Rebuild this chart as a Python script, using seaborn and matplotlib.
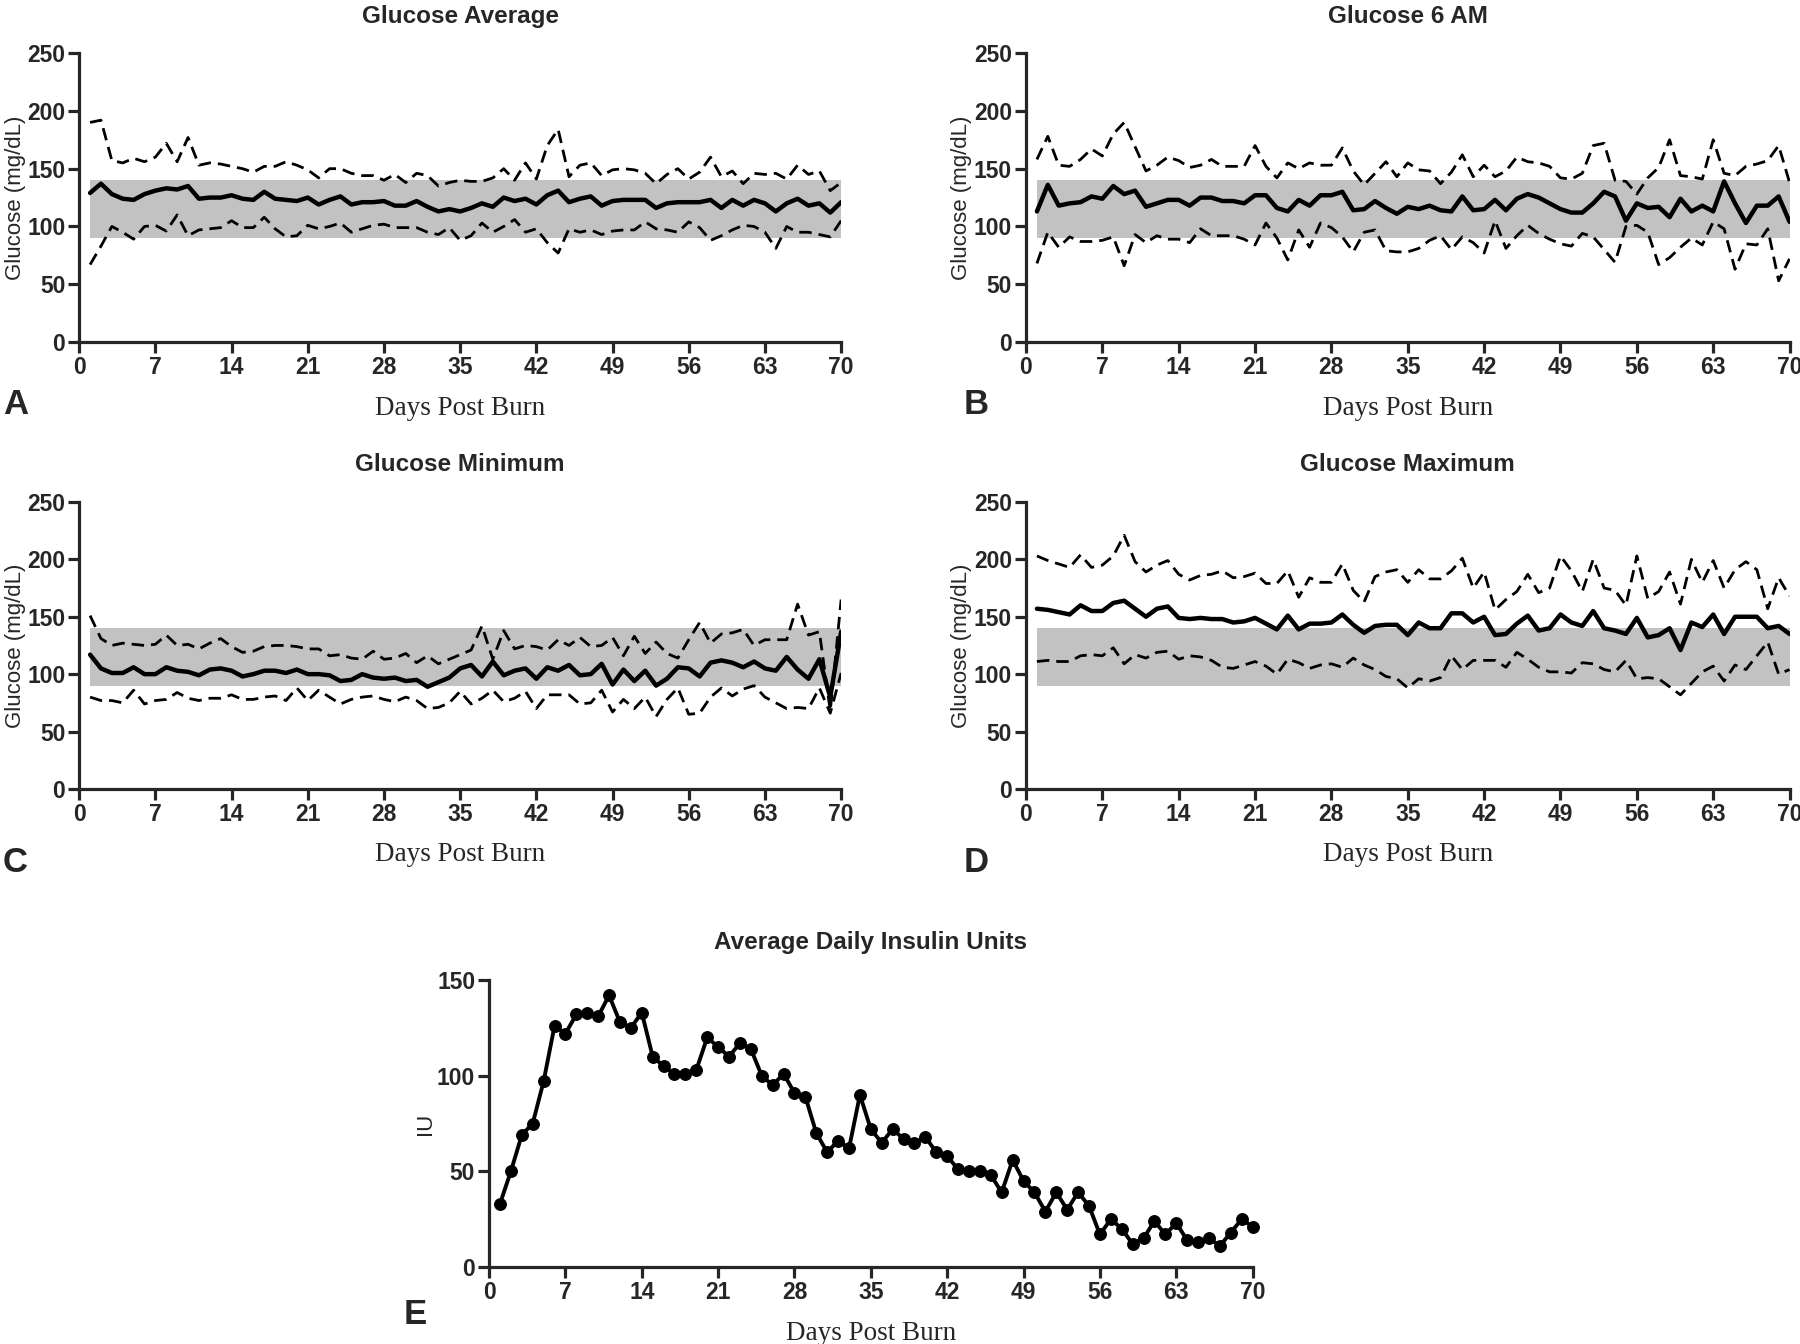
import numpy as np
import pandas as pd
import matplotlib
matplotlib.use("Agg")
import matplotlib.pyplot as plt
import seaborn as sns

days = list(range(1, 71))
target_low, target_high = 90, 140

# Panel A - glucose average
avg_mean = [129, 137, 128, 124, 123, 128, 131, 133, 132, 135, 124, 125, 125, 127, 124, 123, 130, 124, 123, 122,
            125, 119, 123, 126, 119, 121, 121, 122, 118, 118, 122, 117, 113, 115, 113, 116, 120, 117, 125, 122,
            124, 119, 127, 131, 121, 124, 126, 118, 122, 123, 123, 123, 116, 120, 121, 121, 121, 123, 116, 123,
            118, 123, 120, 113, 120, 124, 118, 120, 112, 121]
avg_upper = [190, 192, 157, 155, 159, 156, 160, 172, 156, 177, 153, 155, 154, 152, 150, 147, 152, 152, 156, 153,
             149, 142, 150, 150, 146, 144, 144, 140, 145, 138, 146, 144, 135, 138, 140, 139, 139, 142, 150, 140,
             155, 141, 170, 184, 143, 153, 155, 144, 149, 150, 149, 146, 137, 145, 150, 141, 147, 160, 143, 148,
             137, 146, 145, 146, 141, 153, 145, 148, 131, 138]
avg_lower = [67, 83, 100, 95, 89, 100, 101, 96, 110, 92, 97, 98, 99, 105, 99, 99, 108, 98, 91, 92,
             101, 98, 100, 103, 95, 98, 101, 102, 99, 99, 99, 95, 93, 99, 88, 92, 103, 95, 100, 106,
             95, 98, 86, 77, 98, 95, 97, 93, 96, 97, 97, 104, 98, 97, 95, 104, 99, 88, 92, 97,
             101, 100, 95, 81, 100, 95, 95, 93, 91, 105]

# Panel B - glucose 6 AM
am6_mean = [113, 136, 118, 120, 121, 126, 124, 135, 128, 131, 117, 120, 123, 123, 118, 125, 125, 122, 122, 120,
            127, 127, 116, 113, 123, 118, 127, 127, 130, 114, 115, 122, 116, 111, 117, 115, 118, 114, 113, 126,
            114, 115, 123, 114, 124, 128, 125, 120, 115, 112, 112, 120, 130, 126, 105, 120, 116, 117, 108, 124,
            113, 118, 113, 139, 120, 103, 118, 118, 126, 104]
am6_upper = [158, 178, 153, 152, 158, 167, 161, 180, 190, 169, 148, 153, 160, 157, 151, 153, 158, 152, 152, 152,
             170, 152, 142, 155, 150, 155, 153, 153, 168, 148, 136, 146, 156, 143, 155, 149, 148, 137, 147, 162,
             143, 153, 143, 148, 160, 156, 155, 152, 142, 141, 146, 170, 172, 140, 139, 128, 142, 151, 175, 144,
             143, 141, 175, 146, 144, 152, 154, 157, 170, 138]
am6_lower = [68, 95, 82, 91, 87, 87, 88, 91, 66, 93, 86, 92, 89, 89, 86, 98, 92, 92, 92, 89,
             84, 103, 90, 71, 97, 82, 103, 99, 91, 78, 95, 97, 79, 78, 78, 81, 88, 92, 80, 91,
             86, 77, 105, 81, 92, 101, 94, 89, 85, 83, 94, 91, 80, 69, 100, 101, 95, 67, 73, 82,
             90, 84, 104, 98, 63, 85, 84, 98, 53, 72]

# Panel C - glucose minimum
min_mean = [117, 105, 101, 101, 106, 100, 100, 106, 103, 102, 99, 104, 105, 103, 98, 100, 103, 103, 101, 104,
            100, 100, 99, 94, 95, 100, 97, 96, 97, 94, 95, 89, 93, 97, 105, 108, 98, 111, 99, 103,
            105, 96, 106, 103, 108, 99, 100, 109, 91, 104, 94, 103, 90, 96, 106, 105, 98, 110, 112, 110,
            106, 111, 105, 103, 115, 104, 96, 113, 80, 137]
min_upper = [151, 131, 125, 127, 126, 125, 126, 134, 125, 126, 122, 127, 131, 124, 119, 120, 124, 125, 125, 124,
             122, 122, 116, 117, 114, 113, 120, 113, 114, 118, 110, 116, 109, 113, 117, 121, 142, 113, 138, 122,
             125, 124, 121, 130, 125, 132, 124, 125, 132, 116, 133, 118, 128, 118, 114, 130, 145, 127, 135, 136,
             139, 125, 130, 130, 130, 161, 134, 137, 68, 165]
min_lower = [80, 77, 77, 75, 86, 74, 77, 78, 84, 79, 77, 79, 79, 82, 78, 78, 80, 81, 77, 88,
             77, 86, 80, 74, 78, 80, 81, 78, 76, 80, 77, 70, 71, 75, 85, 74, 79, 86, 76, 79,
             85, 70, 82, 82, 82, 74, 75, 86, 67, 78, 70, 80, 63, 78, 88, 65, 66, 80, 88, 81,
             87, 90, 80, 75, 70, 71, 70, 88, 66, 101]

# Panel D - glucose maximum
max_mean = [157, 156, 154, 152, 160, 155, 155, 162, 164, 157, 150, 157, 159, 149, 148, 149, 148, 148, 145, 146,
            149, 144, 139, 151, 139, 144, 144, 145, 152, 143, 136, 142, 143, 143, 134, 145, 140, 140, 153, 153,
            145, 150, 134, 135, 144, 151, 138, 140, 152, 145, 142, 155, 140, 138, 135, 149, 132, 134, 140, 121,
            145, 141, 152, 135, 150, 150, 150, 140, 142, 135]
max_upper = [203, 199, 196, 193, 204, 193, 195, 203, 221, 198, 189, 195, 199, 187, 182, 186, 187, 190, 184, 185,
             188, 179, 179, 190, 167, 184, 180, 180, 196, 173, 163, 185, 189, 191, 180, 191, 183, 183, 190, 201,
             175, 189, 156, 165, 172, 187, 171, 175, 203, 190, 172, 200, 175, 173, 160, 203, 166, 172, 189, 161,
             200, 180, 199, 175, 191, 198, 191, 157, 184, 168]
max_lower = [111, 112, 111, 111, 116, 117, 116, 123, 109, 117, 114, 119, 120, 113, 116, 115, 112, 106, 105, 108,
             111, 107, 100, 113, 110, 105, 108, 109, 106, 114, 108, 104, 98, 96, 88, 96, 94, 97, 116, 104,
             112, 112, 112, 106, 119, 113, 106, 102, 102, 101, 110, 109, 104, 102, 112, 96, 97, 96, 89, 82,
             92, 102, 107, 94, 108, 104, 116, 128, 100, 104]

# Panel E - insulin
insulin = [33, 50, 69, 75, 97, 126, 122, 132, 133, 131, 142, 128, 125, 133, 110, 105, 101, 101, 103, 120,
           115, 110, 117, 114, 100, 95, 101, 91, 89, 70, 60, 66, 62, 90, 72, 65, 72, 67, 65, 68,
           60, 58, 51, 50, 50, 48, 39, 56, 45, 39, 29, 39, 30, 39, 32, 17, 25, 20, 12, 15,
           24, 17, 23, 14, 13, 15, 11, 18, 25, 21]

day_ticks = list(range(0, 71, 7))
glucose_ticks = [0, 50, 100, 150, 200, 250]
insulin_ticks = [0, 50, 100, 150]

sns.set_style("ticks")
plt.rcParams["font.family"] = ["Liberation Sans", "DejaVu Sans"]
plt.rcParams["axes.linewidth"] = 2.3

fig = plt.figure(figsize=(18, 13.44), dpi=100)

tick_font = {"family": ["Liberation Sans Narrow", "Liberation Sans"], "weight": "bold", "size": 16.5}
serif_font = {"family": ["Liberation Serif", "DejaVu Serif"], "size": 19.5}


def style_axis(ax, title, letter, letter_xy, yticks, ylabel):
    sns.despine(ax=ax)
    ax.set_xlim(0, 70)
    ax.set_ylim(yticks[0], yticks[-1])
    ax.set_xticks(day_ticks)
    ax.set_yticks(yticks)
    ax.set_xticklabels([str(t) for t in day_ticks], fontdict=tick_font)
    ax.set_yticklabels([str(t) for t in yticks], fontdict=tick_font)
    ax.tick_params(direction="out", length=8, width=2.3, pad=2)
    ax.set_xlabel("Days Post Burn", fontdict=serif_font, labelpad=12)
    ax.set_ylabel(ylabel, fontsize=16, labelpad=1)
    ax.set_title(title, fontsize=17.5, fontweight="bold", pad=22)
    fig.text(letter_xy[0] / 1800, 1 - letter_xy[1] / 1344, letter, fontsize=25,
             fontweight="bold", ha="left", va="center")


def glucose_panel(rect, title, letter, letter_xy, mean, upper, lower):
    ax = fig.add_axes(rect)
    ax.fill_between(days, target_low, target_high, color="#c2c2c2", lw=0, zorder=0)
    df = pd.DataFrame({"day": days, "mean": mean, "upper": upper, "lower": lower})
    for col in ["upper", "lower"]:
        sns.lineplot(data=df, x="day", y=col, ax=ax, color="black", lw=2.0,
                     dashes=False, linestyle=(0, (4.5, 2.5)))
    sns.lineplot(data=df, x="day", y="mean", ax=ax, color="black", lw=3.2)
    style_axis(ax, title, letter, letter_xy, glucose_ticks, "Glucose (mg/dL)")
    return ax


glucose_panel([0.0440, 0.7455, 0.4233, 0.2150], "Glucose Average", "A", (3, 404), avg_mean, avg_upper, avg_lower)
glucose_panel([0.5700, 0.7455, 0.4242, 0.2150], "Glucose 6 AM", "B", (964, 404), am6_mean, am6_upper, am6_lower)
glucose_panel([0.0440, 0.4130, 0.4233, 0.2135], "Glucose Minimum", "C", (3, 863), min_mean, min_upper, min_lower)
glucose_panel([0.5700, 0.4130, 0.4242, 0.2135], "Glucose Maximum", "D", (964, 863), max_mean, max_upper, max_lower)

ax_e = fig.add_axes([0.2717, 0.0573, 0.4242, 0.2135])
ins_df = pd.DataFrame({"day": days, "insulin": insulin})
sns.lineplot(data=ins_df, x="day", y="insulin", ax=ax_e, color="black", lw=2.8,
             marker="o", markersize=8.5, markeredgecolor="black", clip_on=False)
style_axis(ax_e, "Average Daily Insulin Units", "E", (404, 1314), insulin_ticks, "IU")

fig.savefig("out.png", dpi=100)
